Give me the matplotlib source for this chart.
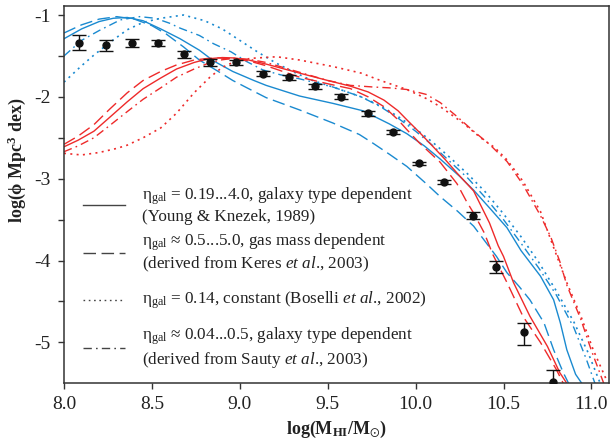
import matplotlib
matplotlib.use("Agg")
import matplotlib.pyplot as plt
from matplotlib.lines import Line2D

plt.rcParams['font.family'] = ['Liberation Serif', 'DejaVu Serif']
plt.rcParams['mathtext.fontset'] = 'custom'
plt.rcParams['mathtext.rm'] = 'Liberation Serif'
plt.rcParams['mathtext.it'] = 'Liberation Serif:italic'
plt.rcParams['mathtext.bf'] = 'Liberation Serif:bold'
plt.rcParams['mathtext.fallback'] = 'stix'
plt.rcParams['axes.unicode_minus'] = False

BLUE = '#1a8ad0'
RED = '#ee2a2a'

# ---- observed points ----
obs_x = [8.087, 8.24, 8.387, 8.535, 8.68, 8.83, 8.98, 9.134, 9.28, 9.427, 9.573,
         9.728, 9.874, 10.022, 10.164, 10.328, 10.459, 10.614, 10.78]
obs_y = [-1.34, -1.37, -1.34, -1.34, -1.48, -1.58, -1.58, -1.72, -1.76, -1.87, -2.0,
         -2.2, -2.43, -2.81, -3.04, -3.45, -4.08, -4.87, -5.49]
obs_err_lo = [0.09, 0.07, 0.05, 0.04, 0.04, 0.04, 0.03, 0.03, 0.03, 0.03, 0.03,
              0.03, 0.03, 0.02, 0.02, 0.04, 0.07, 0.16, 0.15]
obs_err_hi = [0.09, 0.07, 0.05, 0.04, 0.04, 0.04, 0.03, 0.03, 0.03, 0.03, 0.03,
              0.03, 0.03, 0.02, 0.02, 0.04, 0.07, 0.11, 0.15]

# ---- blue model curves ----
bs_x = [8.0, 8.1, 8.2, 8.28, 8.36, 8.45, 8.55, 8.66, 8.77, 8.85, 8.96, 9.08, 9.15, 9.34,
        9.53, 9.7, 9.85, 9.95, 10.05, 10.14, 10.25, 10.33, 10.43, 10.52, 10.6, 10.71,
        10.785, 10.823, 10.86, 10.91, 10.945]
bs_y = [-1.29, -1.17, -1.08, -1.04, -1.03, -1.07, -1.17, -1.29, -1.43, -1.56, -1.69, -1.8,
        -1.86, -1.99, -2.08, -2.17, -2.33, -2.45, -2.6, -2.76, -2.97, -3.14, -3.38, -3.6,
        -3.88, -4.19, -4.48, -4.76, -5.09, -5.39, -5.5]

bd_x = [8.0, 8.1, 8.2, 8.3, 8.4, 8.5, 8.58, 8.68, 8.77, 8.87, 8.96, 9.05, 9.15, 9.34, 9.53,
        9.68, 9.76, 9.85, 9.95, 10.06, 10.14, 10.24, 10.33, 10.46, 10.52, 10.59, 10.65,
        10.73, 10.785, 10.84, 10.87]
bd_y = [-1.22, -1.12, -1.05, -1.02, -1.05, -1.13, -1.23, -1.39, -1.55, -1.68, -1.8, -1.9,
        -2.01, -2.16, -2.32, -2.46, -2.57, -2.7, -2.85, -3.06, -3.22, -3.4, -3.58, -3.95,
        -4.15, -4.32, -4.48, -4.76, -5.09, -5.37, -5.5]

bdd_x = [8.0, 8.1, 8.2, 8.32, 8.43, 8.52, 8.6, 8.66, 8.77, 8.85, 8.95, 9.04, 9.13, 9.23,
         9.34, 9.53, 9.69, 9.8, 9.9, 10.0, 10.1, 10.2, 10.3, 10.4, 10.5, 10.6, 10.7, 10.8,
         10.9, 10.97, 11.02]
bdd_y = [-1.5, -1.31, -1.19, -1.06, -1.02, -1.04, -1.1, -1.16, -1.25, -1.35, -1.45, -1.57,
         -1.67, -1.73, -1.78, -1.88, -2.0, -2.12, -2.26, -2.42, -2.6, -2.8, -3.0, -3.24,
         -3.5, -3.79, -4.09, -4.42, -4.82, -5.2, -5.5]

bdt_x = [8.0, 8.1, 8.17, 8.27, 8.36, 8.45, 8.55, 8.68, 8.8, 8.9, 9.0, 9.1, 9.2, 9.3, 9.4,
         9.53, 9.69, 9.8, 9.9, 10.0, 10.1, 10.2, 10.3, 10.4, 10.5, 10.6, 10.7, 10.8, 10.9,
         10.98, 11.05]
bdt_y = [-1.82, -1.62, -1.49, -1.32, -1.18, -1.09, -1.04, -1.0, -1.07, -1.17, -1.31, -1.45,
         -1.58, -1.69, -1.79, -1.88, -2.0, -2.11, -2.24, -2.39, -2.56, -2.75, -2.95, -3.17,
         -3.43, -3.71, -4.02, -4.37, -4.75, -5.12, -5.5]

# ---- red model curves ----
rs_x = [8.0, 8.08, 8.17, 8.26, 8.36, 8.45, 8.55, 8.64, 8.74, 8.82, 8.9, 8.97, 9.05, 9.15,
        9.34, 9.5, 9.63, 9.73, 9.82, 9.9, 9.95, 10.02, 10.1, 10.17, 10.235, 10.33, 10.42,
        10.47, 10.5, 10.557, 10.65, 10.75, 10.82, 10.86]
rs_y = [-2.61, -2.53, -2.42, -2.25, -2.06, -1.9, -1.77, -1.66, -1.58, -1.535, -1.52, -1.525,
        -1.55, -1.6, -1.71, -1.8, -1.87, -1.94, -2.04, -2.17, -2.28, -2.43, -2.61, -2.77,
        -2.93, -3.15, -3.54, -3.82, -3.95, -4.27, -4.68, -5.05, -5.37, -5.5]

rd_x = [8.0, 8.08, 8.17, 8.26, 8.36, 8.45, 8.55, 8.64, 8.74, 8.82, 8.88, 8.95, 9.05, 9.15,
        9.34, 9.5, 9.63, 9.73, 9.82, 9.9, 9.95, 10.02, 10.1, 10.14, 10.235, 10.29, 10.33,
        10.39, 10.44, 10.52, 10.61, 10.71, 10.8, 10.84]
rd_y = [-2.58, -2.48, -2.34, -2.15, -1.95, -1.8, -1.69, -1.61, -1.55, -1.53, -1.525, -1.535,
        -1.56, -1.62, -1.76, -1.84, -1.9, -2.0, -2.12, -2.28, -2.4, -2.56, -2.72, -2.8,
        -3.06, -3.28, -3.42, -3.66, -3.93, -4.27, -4.68, -5.0, -5.33, -5.5]

rdd_x = [8.0, 8.08, 8.17, 8.26, 8.36, 8.45, 8.55, 8.64, 8.74, 8.82, 8.89, 8.96, 9.05, 9.15,
         9.34, 9.5, 9.63, 9.76, 9.85, 9.95, 10.06, 10.14, 10.235, 10.33, 10.42, 10.52, 10.61,
         10.71, 10.77, 10.82, 10.86, 10.94, 11.0, 11.07]
rdd_y = [-2.67, -2.6, -2.5, -2.35, -2.18, -2.03, -1.89, -1.76, -1.66, -1.59, -1.55, -1.53,
         -1.54, -1.58, -1.7, -1.8, -1.86, -1.88, -1.89, -1.91, -1.97, -2.07, -2.24, -2.42,
         -2.58, -2.79, -3.07, -3.45, -3.72, -4.01, -4.3, -4.72, -5.1, -5.5]

rdt_x = [8.0, 8.1, 8.2, 8.3, 8.36, 8.45, 8.55, 8.64, 8.74, 8.83, 8.9, 8.96, 9.06, 9.21,
         9.34, 9.53, 9.69, 9.8, 9.95, 10.06, 10.14, 10.27, 10.37, 10.45, 10.52, 10.61, 10.71,
         10.79, 10.86, 10.94, 11.01, 11.09]
rdt_y = [-2.69, -2.71, -2.68, -2.63, -2.59, -2.5, -2.38, -2.2, -1.95, -1.76, -1.64, -1.58,
         -1.53, -1.51, -1.55, -1.63, -1.71, -1.8, -1.91, -2.02, -2.12, -2.32, -2.5, -2.62,
         -2.77, -3.03, -3.4, -3.87, -4.27, -4.68, -5.09, -5.48]

x_ticks = [8.0, 8.5, 9.0, 9.5, 10.0, 10.5, 11.0]
x_ticklabels = ['8.0', '8.5', '9.0', '9.5', '10.0', '10.5', '11.0']
y_ticks = [-1, -2, -3, -4, -5]
y_ticklabels = ['-1', '-2', '-3', '-4', '-5']
y_minor = [-1.5, -2.5, -3.5, -4.5]

legend_labels = [
    "η$_{\\rm gal}$ = 0.19...4.0, galaxy type dependent\n(Young & Knezek, 1989)",
    "η$_{\\rm gal}$ ≈ 0.5...5.0, gas mass dependent\n(derived from Keres $\\it{et}$ $\\it{al}$., 2003)",
    "η$_{\\rm gal}$ = 0.14, constant (Boselli $\\it{et}$ $\\it{al}$., 2002)",
    "η$_{\\rm gal}$ ≈ 0.04...0.5, galaxy type dependent\n(derived from Sauty $\\it{et}$ $\\it{al}$., 2003)",
]

# line styles
LS_SOLID = '-'
LS_DASH = (0, (9, 4))
LS_DOT = (0, (1.2, 2.6))
LS_DASHDOT = (0, (6, 3, 1.2, 3))
LW = 1.0

fig = plt.figure(figsize=(6.11, 4.43), dpi=100)
ax = fig.add_axes([64/611, (443-383.3)/443, (609-64)/611, (383.3-6)/443])

ax.plot(bs_x, bs_y, color=BLUE, lw=LW, ls=LS_SOLID)
ax.plot(bd_x, bd_y, color=BLUE, lw=LW, ls=LS_DASH)
ax.plot(bdt_x, bdt_y, color=BLUE, lw=LW*1.2, ls=LS_DOT)
ax.plot(bdd_x, bdd_y, color=BLUE, lw=LW, ls=LS_DASHDOT)

ax.plot(rs_x, rs_y, color=RED, lw=LW, ls=LS_SOLID)
ax.plot(rd_x, rd_y, color=RED, lw=LW, ls=LS_DASH)
ax.plot(rdt_x, rdt_y, color=RED, lw=LW*1.2, ls=LS_DOT)
ax.plot(rdd_x, rdd_y, color=RED, lw=LW, ls=LS_DASHDOT)

ax.errorbar(obs_x, obs_y, yerr=[obs_err_lo, obs_err_hi], fmt='o', color='#111111',
            ms=5, elinewidth=1.0, capsize=5, capthick=1.0, zorder=5, clip_on=True)

ax.set_xlim(8.0, 11.1)
ax.set_ylim(-5.5, -0.89)
ax.set_xticks(x_ticks)
ax.set_xticklabels(x_ticklabels)
ax.set_yticks(y_ticks)
ax.set_yticklabels(y_ticklabels)
ax.set_yticks(y_minor, minor=True)

ax.tick_params(axis='both', which='major', direction='out', length=4.5, width=1.0,
               labelsize=14, pad=5, color='#333333', labelcolor='#222222')
ax.tick_params(axis='y', which='minor', direction='out', length=4.5, width=1.0,
               color='#333333')
for s in ax.spines.values():
    s.set_linewidth(1.1)
    s.set_color('#333333')

ax.set_xlabel("log(M$_{\\mathbf{HI}}$/M$_{\\odot}$)", fontsize=13, fontweight='bold',
              color='#222222', labelpad=4)
ax.set_ylabel("log(ϕ Mpc$^{\\mathbf{3}}$ dex)", fontsize=13, fontweight='bold',
              color='#222222')
ax.yaxis.set_label_coords(-0.066, 0.59)

# legend (manual)
handle_styles = [LS_SOLID, LS_DASH, LS_DOT, LS_DASHDOT]
leg_y_px = [205, 252.7, 300, 347.7]
ax_h = 383.3 - 6
ax_w = 609 - 64
for style, ypx, lab in zip(handle_styles, leg_y_px, legend_labels):
    yf = (383.3 - ypx) / ax_h
    x0 = (83 - 64) / ax_w
    x1 = (125 - 64) / ax_w
    ax.add_line(Line2D([x0, x1], [yf, yf], transform=ax.transAxes, color='#444444',
                       lw=1.0, ls=style))
    ax.text((142 - 64) / ax_w, yf, lab, transform=ax.transAxes, fontsize=12.3,
            va='center', ha='left', color='#222222', linespacing=1.2)

fig.savefig('out.png', dpi=100)
